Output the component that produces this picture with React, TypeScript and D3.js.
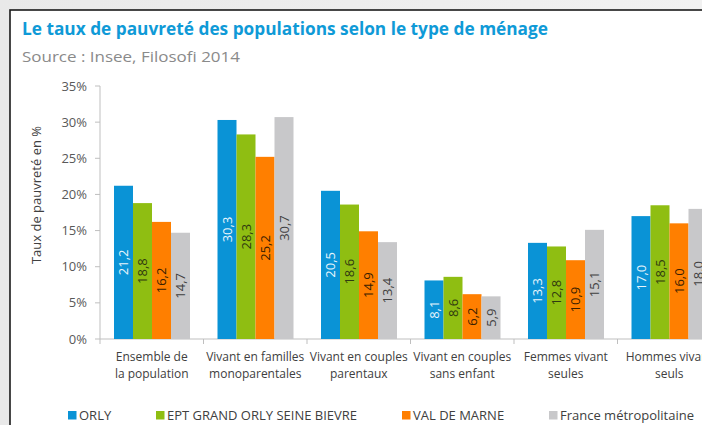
import React from "react";
import * as d3 from "d3";

const categories: string[][] = [
  ["Ensemble de", "la population"],
  ["Vivant en familles", "monoparentales"],
  ["Vivant en couples", "parentaux"],
  ["Vivant en couples", "sans enfant"],
  ["Femmes vivant", "seules"],
  ["Hommes vivant", "seuls"],
];
const seriesNames = ["ORLY", "EPT GRAND ORLY SEINE BIEVRE", "VAL DE MARNE", "France métropolitaine"];
const orly = [21.2, 30.3, 20.5, 8.1, 13.3, 17.0];
const ept = [18.8, 28.3, 18.6, 8.6, 12.8, 18.5];
const valDeMarne = [16.2, 25.2, 14.9, 6.2, 10.9, 16.0];
const france = [14.7, 30.7, 13.4, 5.9, 15.1, 18.0];
const yTicks = [0, 5, 10, 15, 20, 25, 30, 35];

const seriesValues = [orly, ept, valDeMarne, france];
const colors = ["#0a93d6", "#8fbe12", "#ff7f00", "#c8c8ca"];
const labelColors = ["#e8f5fc", "#2f3a10", "#3a2000", "#404040"];
const legendX = [68, 156, 402, 549];

const FONT = "'Open Sans', sans-serif";

export default function App() {
  const W = 702, H = 425;
  const x0 = 100, bandW = 103.5;
  const x = d3.scaleBand<number>().domain(d3.range(categories.length)).range([x0, x0 + bandW * categories.length]);
  const xi = d3.scaleBand<number>().domain(d3.range(seriesNames.length)).range([14, 90]);
  const y = d3.scaleLinear().domain([0, 35]).range([339, 86]);
  const fmt = (v: number) => v.toFixed(1).replace(".", ",");

  return (
    <svg width={W} height={H} style={{ position: "absolute", left: 0, top: 0, display: "block" }}>
      <defs>
        <linearGradient id="bg" x1="0" y1="0" x2="1" y2="0">
          <stop offset="0" stopColor="#e9e9e9" />
          <stop offset="1" stopColor="#f1f1f1" />
        </linearGradient>
      </defs>
      <rect x={0} y={0} width={W} height={H} fill="url(#bg)" />
      <rect x={10} y={10} width={W + 20} height={H + 20} fill="#ffffff" stroke="#1a1a1a" strokeWidth={1.6} />

      <text x={22} y={35} fontFamily={FONT} fontWeight={700} fontSize={17.5} fill="#0f9ad7" textLength={526} lengthAdjust="spacingAndGlyphs">
        Le taux de pauvreté des populations selon le type de ménage
      </text>
      <text x={22} y={62} fontFamily={FONT} fontSize={15} fill="#8a8a8a" textLength={218} lengthAdjust="spacingAndGlyphs">
        Source : Insee, Filosofi 2014
      </text>

      {/* y axis */}
      <line x1={x0} x2={x0} y1={y(35)} y2={y(0)} stroke="#bfbfbf" strokeWidth={1} />
      {yTicks.map((t) => (
        <g key={t}>
          <line x1={x0 - 5} x2={x0} y1={y(t)} y2={y(t)} stroke="#bfbfbf" />
          <text x={87} y={y(t)} dy="0.35em" textAnchor="end" fontFamily={FONT} fontSize={13} fill="#595959">
            {t}%
          </text>
        </g>
      ))}
      <text transform="translate(41,195) rotate(-90)" textAnchor="middle" fontFamily={FONT} fontSize={13} fill="#404040">
        Taux de pauvreté en %
      </text>

      {/* x axis */}
      <line x1={x0} x2={W + 30} y1={y(0)} y2={y(0)} stroke="#bfbfbf" />
      {d3.range(categories.length + 1).map((i) => (
        <line key={i} x1={x0 + i * bandW} x2={x0 + i * bandW} y1={y(0)} y2={y(0) + 5} stroke="#bfbfbf" />
      ))}

      {categories.map((c, ci) => (
        <g key={ci} transform={`translate(${x(ci)},0)`}>
          {seriesValues.map((vals, si) => {
            const v = vals[ci];
            const bx = xi(si)!;
            const bw = xi.bandwidth();
            const top = y(v);
            const mid = (top + y(0)) / 2;
            return (
              <g key={si}>
                <rect x={bx} y={top} width={bw} height={y(0) - top} fill={colors[si]} />
                <text
                  transform={`translate(${bx + bw / 2},${mid}) rotate(-90)`}
                  textAnchor="middle"
                  dy="0.36em"
                  fontFamily={FONT}
                  fontSize={13}
                  fill={labelColors[si]}
                >
                  {fmt(v)}
                </text>
              </g>
            );
          })}
          {c.map((line, li) => (
            <text key={li} x={x.bandwidth() / 2} y={361 + li * 17} textAnchor="middle" fontFamily={FONT} fontSize={12} fill="#404040">
              {line}
            </text>
          ))}
        </g>
      ))}

      {/* legend */}
      {seriesNames.map((s, si) => (
        <g key={s} transform={`translate(${legendX[si]},411)`}>
          <rect x={0} y={0} width={8.5} height={8.5} fill={colors[si]} />
          <text x={11} y={4.5} dy="0.36em" fontFamily={FONT} fontSize={13} fill="#404040">
            {s}
          </text>
        </g>
      ))}
    </svg>
  );
}
